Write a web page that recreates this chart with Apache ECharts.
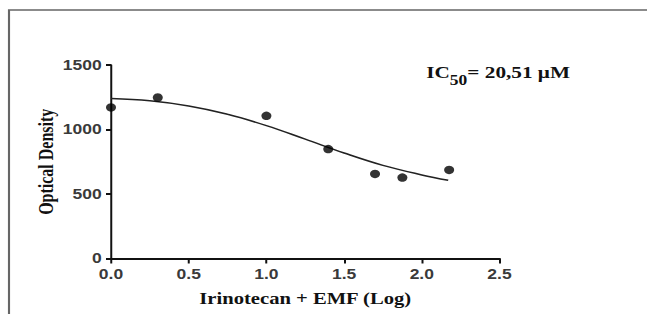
<!DOCTYPE html>
<html>
<head>
<meta charset="utf-8">
<script src="https://cdn.jsdelivr.net/npm/echarts@6/dist/echarts.min.js"></script>
<style>
  html, body { margin: 0; padding: 0; background: #fff; overflow: hidden; }
  /* 原图横向被拉伸约 1.25 倍，这里照样拉伸 */
  #chart { width: 518px; height: 314px; transform: scaleX(1.25); transform-origin: 0 0; }
</style>
</head>
<body>
<div id="chart"></div>
<script>
// 测量点 (log 浓度, 光密度)
const doseLog = [0, 0.301, 1.0, 1.398, 1.699, 1.875, 2.176];
const density = [1171, 1248, 1106, 848, 656, 627, 687];

// 拟合曲线
const fitX = [0, 0.25, 0.5, 0.75, 1.0, 1.25, 1.5, 1.75, 2.0, 2.17];
const fitY = [1240, 1222, 1182, 1118, 1030, 925, 818, 722, 648, 606];

const xTicks = ['0.0', '0.5', '1.0', '1.5', '2.0', '2.5'];
const yTicks = [0, 500, 1000, 1500];

const chart = echarts.init(document.getElementById('chart'), null, { renderer: 'svg' });

const serif = '"Liberation Serif", "DejaVu Serif", serif';
const sans = '"Liberation Sans", Arial, sans-serif';

const option = {
    animation: false,
    grid: {
        left: 88.8,
        right: 118.4,
        top: 65,
        bottom: 55.5
    },
    xAxis: {
        type: 'value',
        min: 0,
        max: 2.5,
        interval: 0.5,
        name: 'Irinotecan + EMF (Log)',
        nameLocation: 'middle',
        nameGap: 31,
        nameMoveOverlap: false,
        nameTextStyle: { fontFamily: serif, fontWeight: 'bold', fontSize: 16.5, color: '#111' },
        axisLine: { lineStyle: { color: '#111', width: 2 } },
        axisTick: { length: 5, lineStyle: { color: '#111', width: 1.6 } },
        axisLabel: {
            margin: 9,
            fontFamily: sans, fontWeight: 'bold', fontSize: 14, color: '#3a3a3a',
            formatter: v => xTicks[Math.round(v / 0.5)]
        },
        splitLine: { show: false }
    },
    yAxis: {
        type: 'value',
        min: yTicks[0],
        max: yTicks[yTicks.length - 1],
        interval: 500,
        name: 'Optical Density',
        nameLocation: 'middle',
        nameGap: 44,
        nameMoveOverlap: false,
        nameTextStyle: { fontFamily: serif, fontWeight: 'bold', fontSize: 16, color: '#111' },
        axisLine: { show: true, lineStyle: { color: '#111', width: 1.6 } },
        axisTick: { show: true, length: 4, lineStyle: { color: '#111', width: 2 } },
        axisLabel: {
            margin: 7.5,
            fontFamily: sans, fontWeight: 'bold', fontSize: 14, color: '#3a3a3a',
            formatter: v => String(v)
        },
        splitLine: { show: false }
    },
    graphic: [
        {
            type: 'polyline',
            shape: { points: [[7.2, 314], [7.2, 10], [518, 10]] },
            style: { stroke: '#666', lineWidth: 1.7, fill: null }
        },
        {
            type: 'text',
            left: 341,
            top: 64,
            style: {
                text: '{a|IC}{s|50}{a|= 20,51 μM}',
                rich: {
                    a: { fontFamily: serif, fontWeight: 'bold', fontSize: 17, fill: '#111', verticalAlign: 'top' },
                    s: { fontFamily: serif, fontWeight: 'bold', fontSize: 14, fill: '#111', padding: [9, 0, 0, 0] }
                }
            }
        }
    ],
    series: [
        {
            type: 'line',
            data: fitX.map((x, i) => [x, fitY[i]]),
            smooth: 0.4,
            showSymbol: false,
            lineStyle: { color: '#222', width: 1.5 },
            z: 2
        },
        {
            type: 'scatter',
            data: doseLog.map((x, i) => [x, density[i]]),
            symbol: 'circle',
            symbolSize: [8, 8.5],
            itemStyle: { color: '#000' },
            z: 3
        }
    ]
};

chart.setOption(option);
</script>
</body>
</html>
